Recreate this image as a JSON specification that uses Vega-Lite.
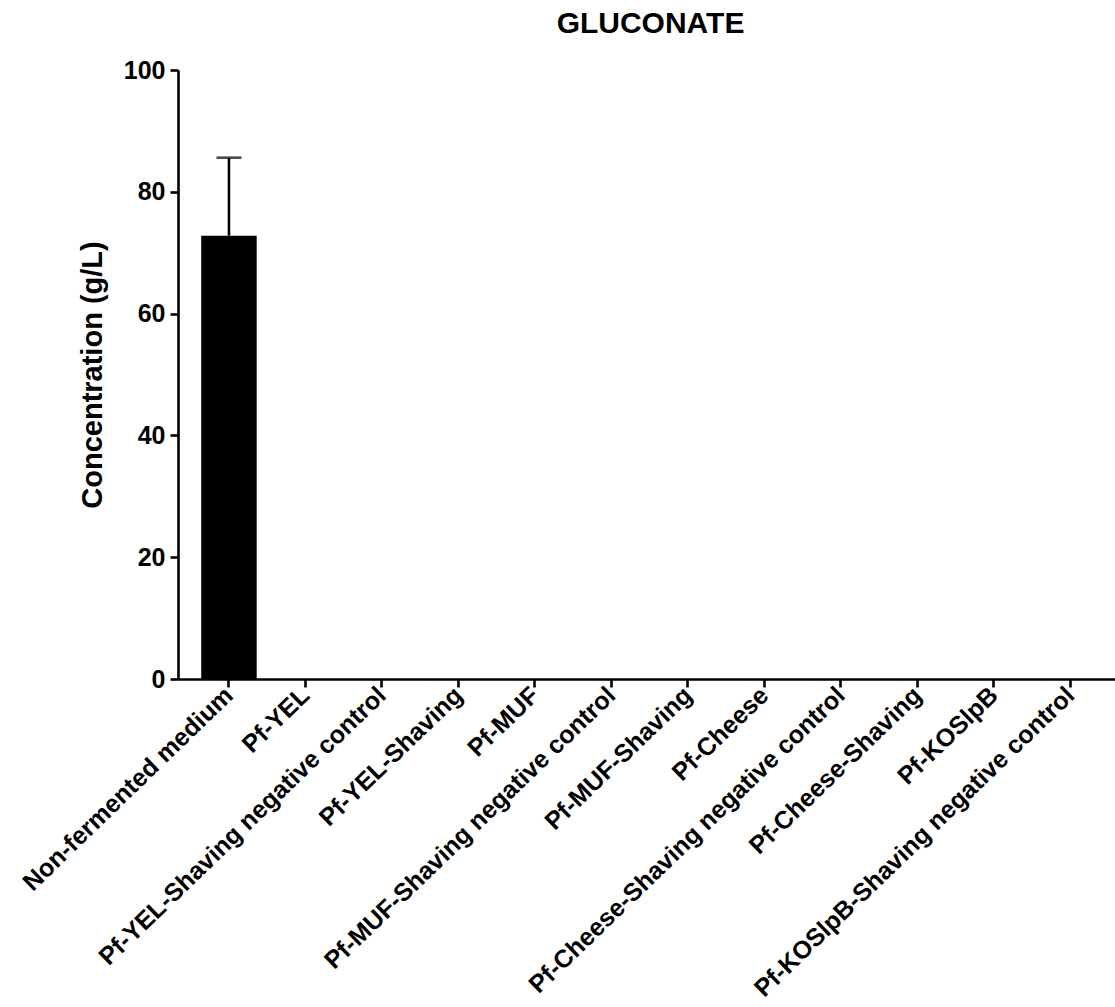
{
  "$schema": "https://vega.github.io/schema/vega-lite/v6.json",
  "autosize": {"type": "none"},
  "padding": {"left": 178, "top": 70, "right": 0, "bottom": 328},
  "width": 937,
  "height": 609,
  "background": "white",
  "title": {
    "text": "GLUCONATE",
    "font": "Liberation Sans",
    "fontSize": 30,
    "fontWeight": "bold",
    "color": "black",
    "anchor": "middle",
    "offset": 19,
    "dx": 4
  },
  "data": {
    "values": [
      {"group": "Non-fermented medium", "value": 72.8, "upper": 85.6},
      {"group": "Pf-YEL", "value": 0, "upper": null},
      {"group": "Pf-YEL-Shaving negative control", "value": 0, "upper": null},
      {"group": "Pf-YEL-Shaving", "value": 0, "upper": null},
      {"group": "Pf-MUF", "value": 0, "upper": null},
      {"group": "Pf-MUF-Shaving negative control", "value": 0, "upper": null},
      {"group": "Pf-MUF-Shaving", "value": 0, "upper": null},
      {"group": "Pf-Cheese", "value": 0, "upper": null},
      {"group": "Pf-Cheese-Shaving negative control", "value": 0, "upper": null},
      {"group": "Pf-Cheese-Shaving", "value": 0, "upper": null},
      {"group": "Pf-KOSlpB", "value": 0, "upper": null},
      {"group": "Pf-KOSlpB-Shaving negative control", "value": 0, "upper": null}
    ]
  },
  "encoding": {
    "x": {
      "field": "group",
      "type": "nominal",
      "sort": null,
      "scale": {"paddingInner": 0.275, "paddingOuter": 0.2617, "align": 0.58},
      "axis": {
        "title": null,
        "labelAngle": -44,
        "labelAlign": "right",
        "labelBaseline": "middle",
        "labelFont": "Liberation Sans",
        "labelFontSize": 25,
        "labelFontWeight": "bold",
        "labelColor": "black",
        "labelPadding": 4,
        "labelLimit": 0,
        "domainColor": "black",
        "domainWidth": 2.6,
        "tickColor": "black",
        "tickWidth": 2.6,
        "tickSize": 8
      }
    }
  },
  "layer": [
    {
      "mark": {"type": "bar", "color": "black"},
      "encoding": {
        "y": {
          "field": "value",
          "type": "quantitative",
          "scale": {"domain": [0, 100], "nice": false},
          "axis": {
            "title": "Concentration (g/L)",
            "titleFont": "Liberation Sans",
            "titleFontSize": 29,
            "titleFontWeight": "bold",
            "titleColor": "black",
            "titlePadding": 16,
            "values": [0, 20, 40, 60, 80, 100],
            "labelFont": "Liberation Sans",
            "labelFontSize": 25,
            "labelFontWeight": "bold",
            "labelColor": "black",
            "labelPadding": 5,
            "grid": false,
            "domainColor": "black",
            "domainWidth": 2.6,
            "tickColor": "black",
            "tickWidth": 2.6,
            "tickSize": 8
          }
        }
      }
    },
    {
      "transform": [{"filter": "isValid(datum.upper)"}],
      "mark": {"type": "rule", "color": "black", "strokeWidth": 2.6},
      "encoding": {
        "y": {"field": "value", "type": "quantitative"},
        "y2": {"field": "upper"}
      }
    },
    {
      "transform": [{"filter": "isValid(datum.upper)"}],
      "mark": {"type": "tick", "color": "black", "thickness": 2.6, "size": 25},
      "encoding": {
        "y": {"field": "upper", "type": "quantitative"}
      }
    }
  ],
  "config": {
    "view": {"stroke": null}
  }
}
